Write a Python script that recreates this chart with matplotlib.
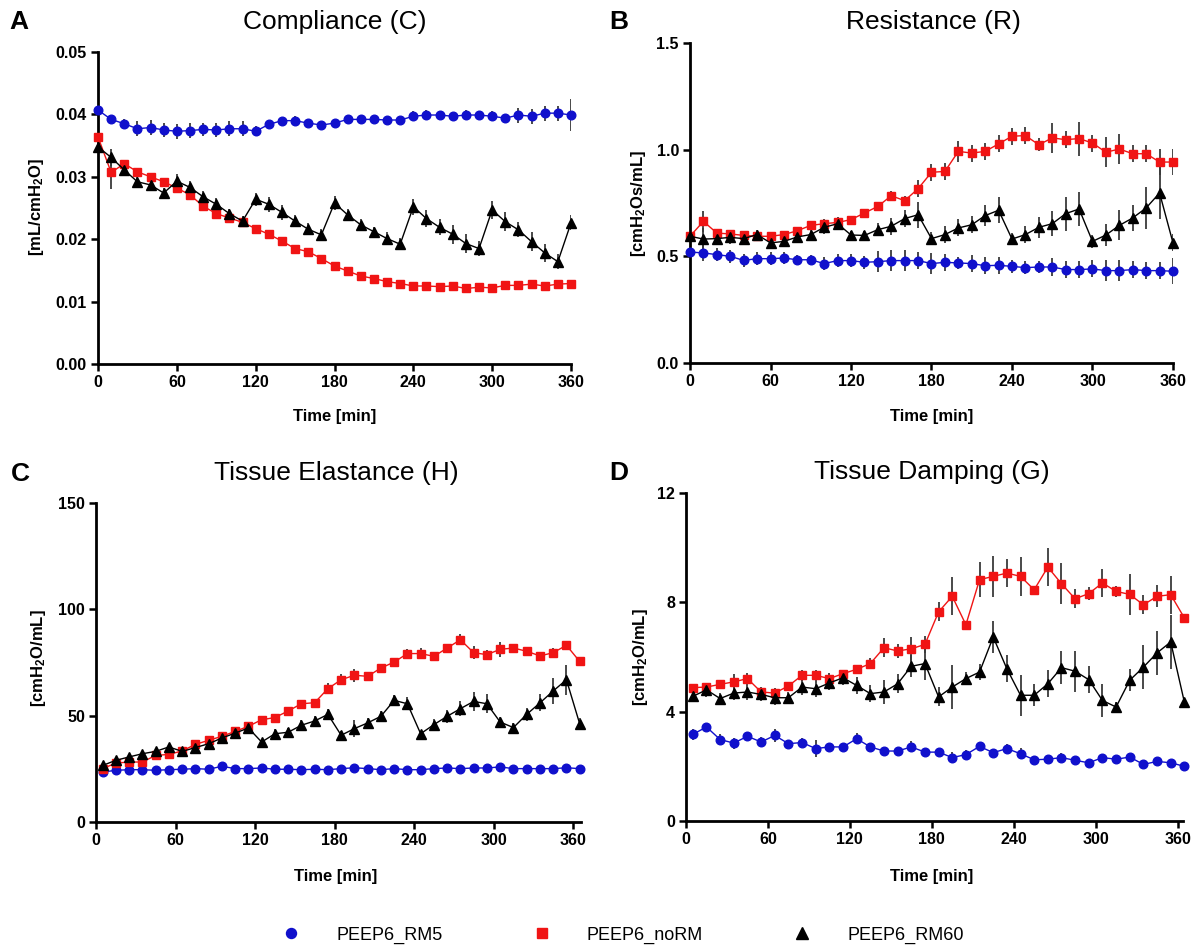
import numpy as np
import matplotlib
matplotlib.use("Agg")
import matplotlib.pyplot as plt
from matplotlib.lines import Line2D

plt.rcParams['font.family'] = ['Liberation Sans', 'DejaVu Sans']
plt.rcParams['mathtext.fontset'] = 'custom'
plt.rcParams['mathtext.rm'] = 'Liberation Sans:bold'
plt.rcParams['mathtext.it'] = 'Liberation Sans:bold'
plt.rcParams['mathtext.bf'] = 'Liberation Sans:bold'

# ---------------- data ----------------
time_top = list(range(0, 361, 10))      # panels A, B
time_bottom = list(range(5, 366, 10))   # panels C, D

series_names = ["PEEP6_RM5", "PEEP6_noRM", "PEEP6_RM60"]

# A: Compliance (C)
comp_rm5 = [0.0407, 0.0392, 0.0385, 0.0377, 0.0379, 0.0375, 0.0373, 0.0374, 0.0376, 0.0375,
            0.0377, 0.0377, 0.0373, 0.0384, 0.0390, 0.0390, 0.0386, 0.0383, 0.0386, 0.0392,
            0.0392, 0.0392, 0.0391, 0.0391, 0.0397, 0.0399, 0.0399, 0.0397, 0.0399, 0.0399,
            0.0397, 0.0394, 0.0399, 0.0397, 0.0402, 0.0402, 0.0399]
comp_rm5_err = [0.0002, 0.0005, 0.0008, 0.0012, 0.0012, 0.0012, 0.0012, 0.0012, 0.0010, 0.0012,
                0.0012, 0.0012, 0.0008, 0.0005, 0.0005, 0.0007, 0.0005, 0.0003, 0.0005, 0.0007,
                0.0007, 0.0006, 0.0005, 0.0005, 0.0008, 0.0008, 0.0006, 0.0005, 0.0008, 0.0007,
                0.0008, 0.0007, 0.0012, 0.0012, 0.0012, 0.0012, 0.0025]
comp_norm = [0.0364, 0.0307, 0.0321, 0.0308, 0.0300, 0.0292, 0.0282, 0.0271, 0.0253, 0.0241,
             0.0234, 0.0227, 0.0217, 0.0208, 0.0197, 0.0185, 0.0180, 0.0169, 0.0157, 0.0149,
             0.0141, 0.0137, 0.0132, 0.0129, 0.0125, 0.0125, 0.0124, 0.0125, 0.0121, 0.0123,
             0.0122, 0.0126, 0.0126, 0.0128, 0.0125, 0.0128, 0.0129]
comp_norm_err = [0.0003, 0.0026, 0.0004, 0.0004, 0.0003, 0.0003, 0.0004, 0.0004, 0.0004, 0.0003,
                 0.0003, 0.0003, 0.0003, 0.0003, 0.0003, 0.0003, 0.0003, 0.0003, 0.0003, 0.0003,
                 0.0003, 0.0003, 0.0003, 0.0003, 0.0003, 0.0003, 0.0003, 0.0003, 0.0003, 0.0003,
                 0.0003, 0.0003, 0.0003, 0.0003, 0.0003, 0.0003, 0.0003]
comp_rm60 = [0.0348, 0.0331, 0.0311, 0.0292, 0.0287, 0.0274, 0.0293, 0.0283, 0.0268, 0.0256,
             0.0241, 0.0229, 0.0264, 0.0256, 0.0243, 0.0229, 0.0216, 0.0207, 0.0258, 0.0239,
             0.0223, 0.0212, 0.0201, 0.0192, 0.0252, 0.0233, 0.0219, 0.0208, 0.0193, 0.0185,
             0.0247, 0.0228, 0.0215, 0.0196, 0.0178, 0.0164, 0.0226]
comp_rm60_err = [0.0008, 0.0013, 0.0010, 0.0008, 0.0008, 0.0008, 0.0012, 0.0010, 0.0010, 0.0010,
                 0.0008, 0.0008, 0.0010, 0.0012, 0.0012, 0.0010, 0.0010, 0.0010, 0.0012, 0.0010,
                 0.0010, 0.0008, 0.0010, 0.0010, 0.0013, 0.0013, 0.0013, 0.0015, 0.0015, 0.0012,
                 0.0015, 0.0015, 0.0012, 0.0015, 0.0015, 0.0012, 0.0012]

# B: Resistance (R)
res_rm5 = [0.520, 0.516, 0.508, 0.500, 0.481, 0.489, 0.489, 0.492, 0.484, 0.484,
           0.466, 0.480, 0.480, 0.472, 0.475, 0.480, 0.480, 0.480, 0.466, 0.472,
           0.469, 0.466, 0.456, 0.458, 0.453, 0.447, 0.450, 0.450, 0.438, 0.438,
           0.441, 0.433, 0.433, 0.438, 0.433, 0.433, 0.430]
res_rm5_err = [0.02, 0.04, 0.03, 0.03, 0.03, 0.03, 0.03, 0.03, 0.02, 0.02,
               0.03, 0.03, 0.03, 0.03, 0.05, 0.05, 0.05, 0.04, 0.05, 0.04,
               0.03, 0.04, 0.04, 0.04, 0.03, 0.03, 0.03, 0.04, 0.04, 0.04,
               0.04, 0.05, 0.05, 0.04, 0.04, 0.04, 0.06]
res_norm = [0.594, 0.664, 0.609, 0.605, 0.598, 0.594, 0.594, 0.602, 0.620, 0.645,
            0.653, 0.659, 0.672, 0.703, 0.734, 0.784, 0.761, 0.817, 0.894, 0.898,
            0.992, 0.984, 0.992, 1.027, 1.063, 1.066, 1.023, 1.055, 1.047, 1.052,
            1.031, 0.988, 1.003, 0.981, 0.981, 0.942, 0.942]
res_norm_err = [0.01, 0.05, 0.02, 0.02, 0.02, 0.02, 0.01, 0.01, 0.01, 0.02,
                0.02, 0.01, 0.01, 0.02, 0.02, 0.02, 0.02, 0.04, 0.04, 0.04,
                0.05, 0.04, 0.04, 0.04, 0.04, 0.04, 0.03, 0.07, 0.04, 0.08,
                0.04, 0.07, 0.07, 0.04, 0.04, 0.06, 0.06]
res_rm60 = [0.594, 0.581, 0.583, 0.589, 0.583, 0.602, 0.563, 0.570, 0.591, 0.602,
            0.636, 0.653, 0.600, 0.598, 0.625, 0.641, 0.677, 0.695, 0.583, 0.602,
            0.633, 0.648, 0.691, 0.716, 0.581, 0.602, 0.636, 0.653, 0.700, 0.722,
            0.570, 0.600, 0.645, 0.680, 0.727, 0.797, 0.563]
res_rm60_err = [0.02, 0.05, 0.03, 0.03, 0.03, 0.02, 0.02, 0.02, 0.03, 0.03,
                0.03, 0.03, 0.02, 0.02, 0.03, 0.04, 0.04, 0.06, 0.03, 0.04,
                0.04, 0.04, 0.05, 0.06, 0.03, 0.04, 0.05, 0.06, 0.08, 0.08,
                0.03, 0.05, 0.07, 0.06, 0.10, 0.12, 0.04]

# C: Tissue Elastance (H)
el_rm5 = [23.5, 24.3, 24.6, 24.6, 24.3, 24.6, 24.8, 25.1, 24.8, 26.2,
          25.1, 25.1, 25.4, 24.8, 24.8, 24.6, 24.8, 24.6, 25.1, 25.5,
          25.1, 24.6, 25.1, 24.6, 24.6, 25.1, 25.4, 25.1, 25.4, 25.4,
          25.9, 25.1, 25.1, 25.1, 25.1, 25.5, 25.1]
el_rm5_err = [1.0, 0.8, 0.8, 0.8, 0.8, 0.8, 0.8, 0.8, 0.8, 1.0,
              0.8, 0.8, 0.8, 0.8, 0.8, 0.8, 0.8, 0.8, 0.8, 0.8,
              0.8, 0.8, 0.8, 0.8, 0.8, 0.8, 0.8, 0.8, 0.8, 0.8,
              1.0, 0.8, 0.8, 0.8, 0.8, 1.0, 0.8]
el_norm = [25.1, 27.7, 28.2, 28.2, 31.3, 31.8, 33.4, 36.5, 38.4, 40.3,
           42.6, 45.0, 48.1, 49.1, 52.2, 55.6, 56.1, 62.7, 66.9, 69.0,
           68.5, 72.4, 75.2, 79.2, 79.2, 77.9, 81.8, 85.7, 79.6, 78.7,
           81.2, 81.8, 80.3, 78.1, 79.6, 83.1, 75.5]
el_norm_err = [1.0, 1.2, 1.2, 1.2, 1.2, 1.2, 1.2, 1.2, 1.5, 1.5,
               1.5, 1.5, 1.5, 1.5, 1.5, 2.0, 1.5, 2.5, 2.5, 3.0,
               2.0, 2.0, 2.0, 2.0, 2.5, 2.0, 2.0, 2.5, 3.0, 2.0,
               3.5, 2.0, 2.0, 1.5, 2.0, 2.0, 1.5]
el_rm60 = [26.6, 29.0, 30.6, 32.1, 33.2, 35.3, 33.2, 35.0, 36.8, 39.5,
           41.8, 44.2, 37.6, 41.5, 42.2, 45.5, 47.5, 50.6, 40.8, 43.9,
           46.6, 49.7, 57.2, 55.6, 41.5, 45.8, 49.7, 53.3, 56.7, 55.6,
           47.0, 44.4, 50.6, 56.0, 61.6, 66.9, 46.2]
el_rm60_err = [1.5, 1.5, 1.5, 1.5, 1.5, 1.5, 1.5, 1.5, 1.5, 2.0,
               2.0, 2.0, 1.5, 2.0, 2.0, 2.5, 2.5, 2.5, 2.0, 4.0,
               2.5, 2.5, 2.5, 3.0, 1.5, 2.5, 3.0, 3.5, 4.5, 4.5,
               2.5, 2.0, 3.0, 4.0, 6.0, 7.0, 2.5]

# D: Tissue Damping (G)
dmp_rm5 = [3.17, 3.44, 2.98, 2.85, 3.10, 2.89, 3.13, 2.83, 2.87, 2.65,
           2.71, 2.71, 3.01, 2.71, 2.56, 2.56, 2.71, 2.52, 2.52, 2.32,
           2.43, 2.73, 2.50, 2.65, 2.46, 2.24, 2.26, 2.32, 2.22, 2.13,
           2.32, 2.26, 2.34, 2.07, 2.18, 2.13, 2.00]
dmp_rm5_err = [0.20, 0.15, 0.20, 0.20, 0.15, 0.20, 0.25, 0.15, 0.15, 0.30,
               0.15, 0.15, 0.20, 0.15, 0.12, 0.12, 0.20, 0.12, 0.12, 0.20,
               0.15, 0.15, 0.15, 0.15, 0.20, 0.12, 0.12, 0.15, 0.12, 0.12,
               0.12, 0.12, 0.12, 0.12, 0.12, 0.12, 0.40]
dmp_norm = [4.88, 4.90, 5.00, 5.09, 5.21, 4.72, 4.68, 4.94, 5.33, 5.33,
            5.21, 5.39, 5.55, 5.76, 6.34, 6.22, 6.30, 6.46, 7.65, 8.22,
            7.18, 8.83, 8.95, 9.07, 8.95, 8.46, 9.29, 8.68, 8.13, 8.32,
            8.71, 8.40, 8.29, 7.91, 8.22, 8.28, 7.43]
dmp_norm_err = [0.15, 0.15, 0.15, 0.30, 0.20, 0.20, 0.20, 0.15, 0.20, 0.20,
                0.20, 0.15, 0.15, 0.20, 0.35, 0.25, 0.45, 0.30, 0.35, 0.70,
                0.15, 0.65, 0.75, 0.50, 0.70, 0.15, 0.70, 0.75, 0.35, 0.25,
                0.50, 0.20, 0.75, 0.35, 0.40, 0.70, 0.60]
dmp_rm60 = [4.56, 4.80, 4.48, 4.68, 4.72, 4.63, 4.51, 4.51, 4.90, 4.84,
            5.05, 5.24, 4.96, 4.66, 4.72, 5.02, 5.66, 5.76, 4.54, 4.90,
            5.21, 5.45, 6.73, 5.57, 4.60, 4.60, 5.02, 5.61, 5.48, 5.17,
            4.41, 4.17, 5.15, 5.63, 6.15, 6.55, 4.35]
dmp_rm60_err = [0.20, 0.25, 0.20, 0.25, 0.30, 0.25, 0.25, 0.20, 0.30, 0.30,
                0.25, 0.25, 0.30, 0.30, 0.45, 0.35, 0.40, 0.60, 0.35, 0.80,
                0.25, 0.30, 0.60, 0.50, 0.75, 0.40, 0.50, 0.60, 0.75, 0.50,
                0.60, 0.20, 0.40, 0.80, 0.80, 1.00, 0.55]

# ---------------- styling ----------------
W, H = 1193, 950
fig = plt.figure(figsize=(W / 100, H / 100), dpi=100)

def px_rect(left, right, top, bottom):
    return [left / W, 1 - bottom / H, (right - left) / W, (bottom - top) / H]

colors = ['#1010CC', '#F01414', '#000000']
markers = ['o', 's', '^']
msizes = [6.2, 6.2, 7.0]
ecol = '#3a3a3a'

panels = [
    dict(rect=px_rect(98, 571, 52, 364), x=time_top, xlim=(0, 360),
         ys=[(comp_rm5, comp_rm5_err), (comp_norm, comp_norm_err), (comp_rm60, comp_rm60_err)],
         ylim=(0, 0.05), yticks=[0, 0.01, 0.02, 0.03, 0.04, 0.05], yfmt='{:.2f}',
         title='Compliance (C)', letter='A', ylabel=r'[mL/cmH$_{2}$O]',
         title_xy=(335, 22), letter_xy=(19, 22), ylabel_xy=(37, 207), xlabel_xy=(335, 416)),
    dict(rect=px_rect(690, 1173, 43, 363), x=time_top, xlim=(0, 360),
         ys=[(res_rm5, res_rm5_err), (res_norm, res_norm_err), (res_rm60, res_rm60_err)],
         ylim=(0, 1.5), yticks=[0, 0.5, 1.0, 1.5], yfmt='{:.1f}',
         title='Resistance (R)', letter='B', ylabel=r'[cmH$_{2}$Os/mL]',
         title_xy=(933, 22), letter_xy=(619, 22), ylabel_xy=(638, 203), xlabel_xy=(932, 416)),
    dict(rect=px_rect(96, 581, 503, 822), x=time_bottom, xlim=(0, 366),
         ys=[(el_rm5, el_rm5_err), (el_norm, el_norm_err), (el_rm60, el_rm60_err)],
         ylim=(0, 150), yticks=[0, 50, 100, 150], yfmt='{:.0f}',
         title='Tissue Elastance (H)', letter='C', ylabel=r'[cmH$_{2}$O/mL]',
         title_xy=(336, 473), letter_xy=(20, 474), ylabel_xy=(38, 658), xlabel_xy=(336, 877)),
    dict(rect=px_rect(686, 1183, 493, 821), x=time_bottom, xlim=(0, 364),
         ys=[(dmp_rm5, dmp_rm5_err), (dmp_norm, dmp_norm_err), (dmp_rm60, dmp_rm60_err)],
         ylim=(0, 12), yticks=[0, 4, 8, 12], yfmt='{:.0f}',
         title='Tissue Damping (G)', letter='D', ylabel=r'[cmH$_{2}$O/mL]',
         title_xy=(932, 472), letter_xy=(619, 473), ylabel_xy=(640, 657), xlabel_xy=(932, 877)),
]

def fxy(xy):
    return (xy[0] / W, 1 - xy[1] / H)

for p in panels:
    ax = fig.add_axes(p['rect'])
    x = np.array(p['x'])
    for i, (vals, errs) in enumerate(p['ys']):
        ax.errorbar(x, vals, yerr=errs, fmt='none', ecolor=ecol, elinewidth=1.3,
                    capsize=0, zorder=2)
        ax.plot(x, vals, color=colors[i], lw=1.0, marker=markers[i],
                ms=msizes[i], mec=colors[i], mfc=colors[i], zorder=3 + i * 0.1,
                clip_on=False)
    ax.set_xlim(*p['xlim'])
    ax.set_ylim(*p['ylim'])
    ax.set_xticks([0, 60, 120, 180, 240, 300, 360])
    ax.set_xticklabels(['0', '60', '120', '180', '240', '300', '360'])
    ax.set_yticks(p['yticks'])
    ax.set_yticklabels([p['yfmt'].format(v) for v in p['yticks']])
    for s in ['top', 'right']:
        ax.spines[s].set_visible(False)
    for s in ['left', 'bottom']:
        ax.spines[s].set_linewidth(2.0)
    ax.tick_params(axis='both', direction='out', length=5, width=1.8, labelsize=11.5, pad=3)
    for lab in ax.get_xticklabels() + ax.get_yticklabels():
        lab.set_fontweight('bold')
    ax.patch.set_alpha(0)

    fig.text(*fxy(p['title_xy']), p['title'], ha='center', va='center', fontsize=19)
    fig.text(*fxy(p['letter_xy']), p['letter'], ha='center', va='center', fontsize=19,
             fontweight='bold')
    fig.text(*fxy(p['ylabel_xy']), p['ylabel'], ha='center', va='center', rotation=90,
             fontsize=12, fontweight='bold')
    fig.text(*fxy(p['xlabel_xy']), 'Time [min]', ha='center', va='center', fontsize=12,
             fontweight='bold')

leg_handles = [Line2D([], [], ls='none', marker=markers[i], color=colors[i],
                      ms=msizes[i] + 1) for i in range(3)]
fig.legend(leg_handles, series_names, loc='center', bbox_to_anchor=(623 / W, 1 - 935 / H),
           ncol=3, frameon=False, fontsize=13, handlelength=1.0, handletextpad=2.0,
           columnspacing=5.0)

fig.savefig('out.png', dpi=100)
